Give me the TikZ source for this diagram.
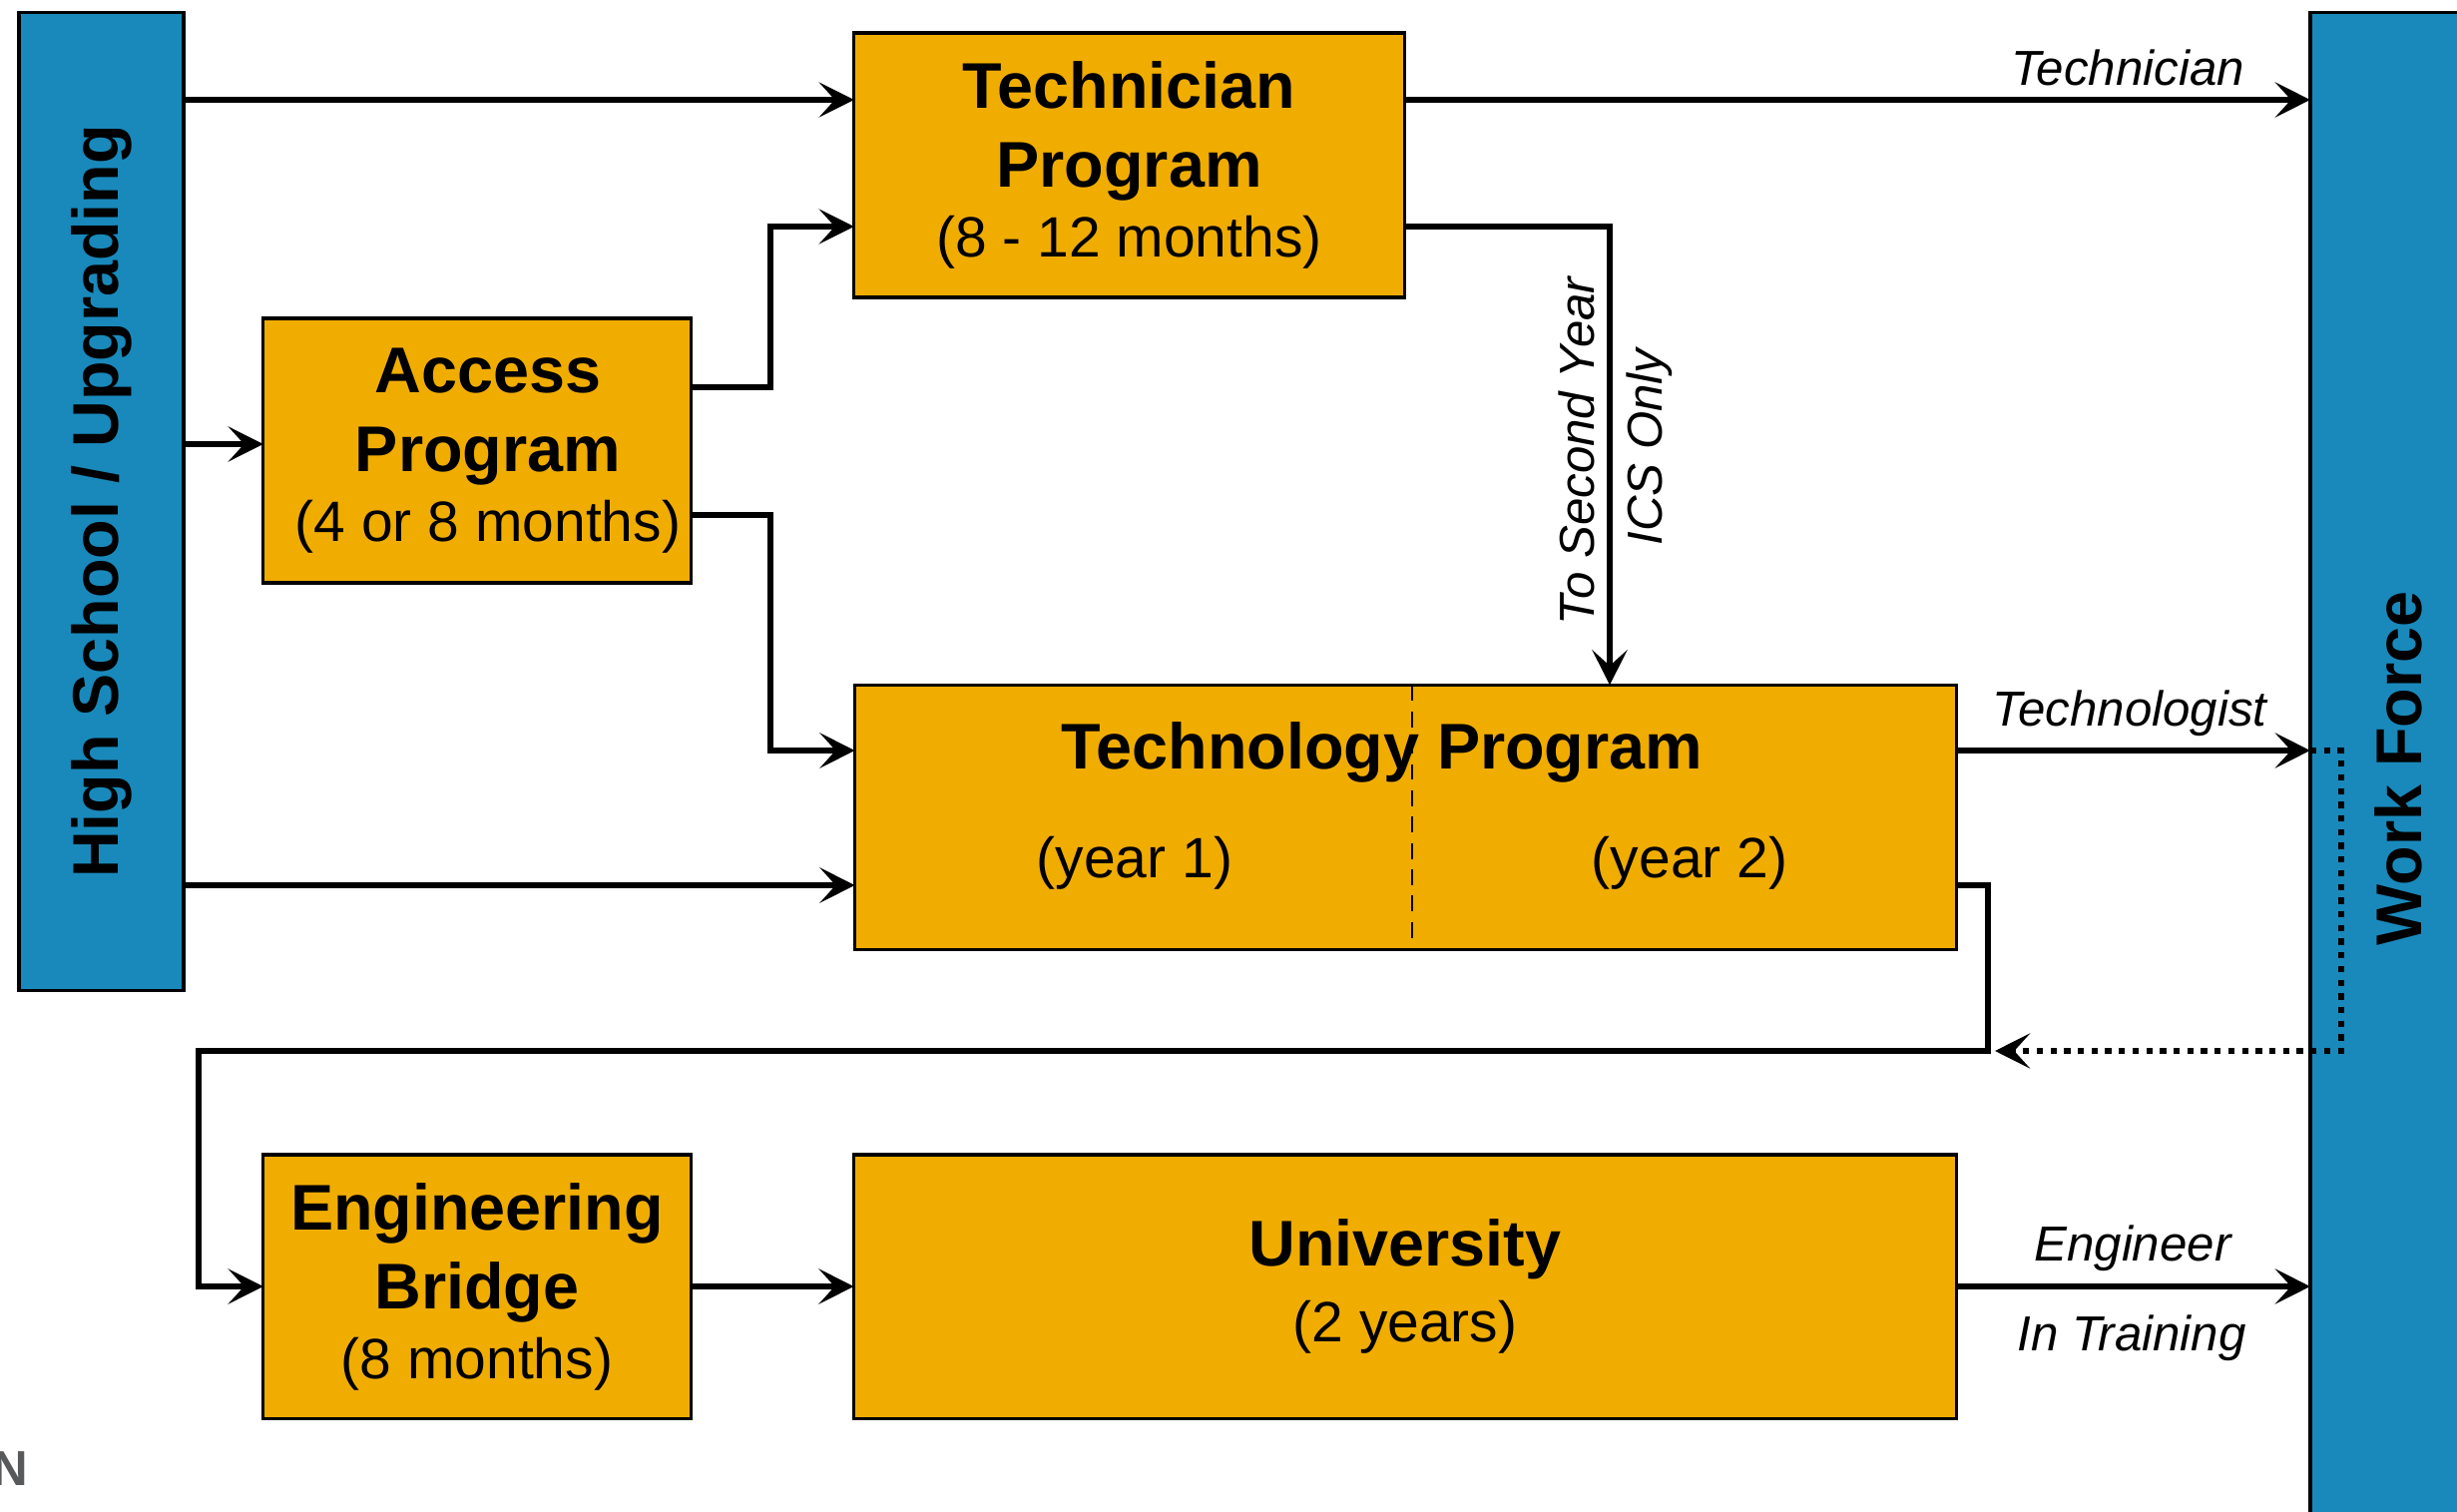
\documentclass[tikz,border=0pt]{standalone}
\usepackage{fontspec}
\setmainfont{Liberation Sans}
\usetikzlibrary{arrows.meta}
\definecolor{boxorange}{RGB}{240,173,0}
\definecolor{sideblue}{RGB}{25,137,187}
\definecolor{logogray}{RGB}{88,89,91}
\begin{document}
\begin{tikzpicture}[x=0.01cm,y=-0.01cm,
  box/.style={draw=black, line width=0.9pt, fill=boxorange, inner sep=0pt, outer sep=0pt, align=center,
              font=\fontsize{18.4}{22.5}\selectfont\bfseries},
  side/.style={draw=black, line width=0.9pt, fill=sideblue, inner sep=0pt, outer sep=0pt},
  bt/.style={font=\fontsize{18.4}{22.5}\selectfont\bfseries, inner sep=0pt},
  rt/.style={font=\fontsize{16.2}{20}\selectfont, inner sep=0pt},
  lbl/.style={font=\fontsize{14}{16}\selectfont\itshape, inner sep=0pt},
  tip/.style={-{Stealth[length=10pt,width=10pt,inset=4.5pt]}},
  arr/.style={line width=1.7pt, tip},
  dotarr/.style={line width=1.7pt, dash pattern=on 1.8pt off 2.1pt, tip},
  divider/.style={line width=0.8pt, dash pattern=on 4.5pt off 3pt},
]
\useasboundingbox (0,0) rectangle (2462,1515);
\fill[white] (0,0) rectangle (2462,1515);

% side bars
\node[side, minimum width=1.65cm, minimum height=9.79cm] (hs) at (101.5,502.5) {};
\node[bt, rotate=90] (hstext) at (hs.center) {High School / Upgrading};
\node[side, minimum width=1.75cm, minimum height=15.17cm] (wf) at (2402.5,771.5) {};
\node[bt, rotate=90] (wftext) at (2403,770) {Work Force};

% program boxes
\node[box, minimum width=5.51cm, minimum height=2.65cm] (tp) at (1131.5,165.5)
  {Technician\\Program\\[-2.6pt]{\fontsize{16.2}{20}\selectfont\mdseries (8 - 12 months)}};
\node[box, minimum width=4.28cm, minimum height=2.65cm] (ap) at (478,451.5)
  {\hspace*{0.22cm}Access\\\hspace*{0.22cm}Program\\[-2.6pt]{\fontsize{16.2}{20}\selectfont\mdseries \hspace*{0.22cm}(4 or 8 months)}};
\node[box, minimum width=11.03cm, minimum height=2.65cm] (tg) at (1408.5,819) {};
\node[box, minimum width=4.28cm, minimum height=2.64cm] (eb) at (478,1289)
  {Engineering\\Bridge\\[-2.6pt]{\fontsize{16.2}{20}\selectfont\mdseries (8 months)}};
\node[box, minimum width=11.04cm, minimum height=2.64cm] (un) at (1408,1289)
  {University\\[-1pt]{\fontsize{16.2}{20}\selectfont\mdseries (2 years)}};

% technology program contents
\coordinate (dv) at (1415,0);
\draw[divider] (tg.north -| dv) -- ([yshift=2.8pt]tg.south -| dv);
\node[bt, anchor=base] (tgtitle) at (1385,770) {Technology Program};
\node[rt, anchor=base] (tgy1) at (1137,879) {(year 1)};
\node[rt, anchor=base] (tgy2) at (1693,879) {(year 2)};

% routing coordinates
\coordinate (yA) at (0,100);
\coordinate (yB) at (0,227);
\coordinate (yC) at (0,388);
\coordinate (yD) at (0,445);
\coordinate (yE) at (0,516);
\coordinate (yF) at (0,752);
\coordinate (yG) at (0,887);
\coordinate (yH) at (0,1053);
\coordinate (yI) at (0,1289);
\coordinate (xJ) at (772,0);
\coordinate (xK) at (1613,0);
\coordinate (xL) at (1992,0);
\coordinate (xM) at (199,0);
\coordinate (xN) at (2346,0);
\coordinate (xP) at (1999,0);

% connectors
\draw[arr] (hs.east |- yA) -- (tp.west |- yA);
\draw[arr] (hs.east |- yD) -- (ap.west |- yD);
\draw[arr] (hs.east |- yG) -- (tg.west |- yG);
\draw[arr] (ap.east |- yC) -- (xJ |- yC) -- (xJ |- yB) -- (tp.west |- yB);
\draw[arr] (ap.east |- yE) -- (xJ |- yE) -- (xJ |- yF) -- (tg.west |- yF);
\draw[arr] (tp.east |- yA) -- (wf.west |- yA);
\draw[arr] (tp.east |- yB) -- (xK |- yB) -- (tg.north -| xK);
\draw[arr] (tg.east |- yF) -- (wf.west |- yF);
\draw[arr] (tg.east |- yG) -- (xL |- yG) -- (xL |- yH) -- (xM |- yH) -- (xM |- yI) -- (eb.west |- yI);
\draw[arr] (eb.east |- yI) -- (un.west |- yI);
\draw[arr] (un.east |- yI) -- (wf.west |- yI);
\draw[dotarr] (wf.west |- yF) -- (xN |- yF) -- (xN |- yH) -- (xP |- yH);

% labels
\node[lbl, anchor=base] (ltechn) at (2132,85) {Technician};
\node[lbl, anchor=base] (ltechl) at (2134,727) {Technologist};
\node[lbl, anchor=base] (leng) at (2137,1263) {Engineer};
\node[lbl, anchor=base] (ltrain) at (2136,1353) {In Training};
\node[lbl, anchor=base, rotate=90] (lsecond) at (1597,452) {To Second Year};
\node[lbl, anchor=base, rotate=90] (lics) at (1665,448) {ICS Only};

% logo fragment
\node[font=\fontsize{14}{16}\selectfont\bfseries, text=logogray, anchor=base east, inner sep=0pt] (nfrag) at (29,1488) {N};
\end{tikzpicture}
\end{document}
